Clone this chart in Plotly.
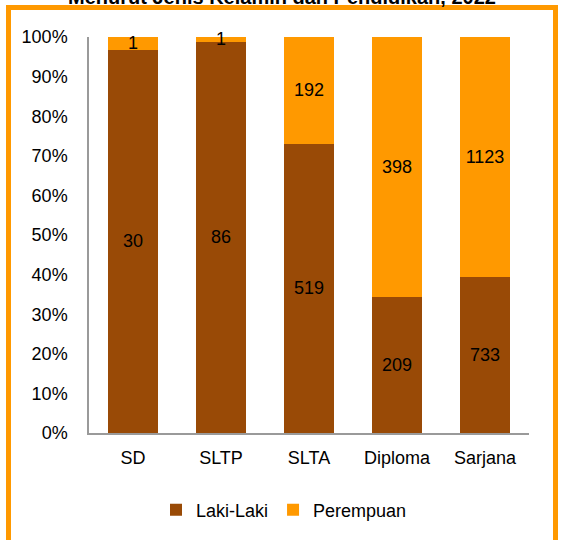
import plotly.graph_objects as go

categories = ["SD", "SLTP", "SLTA", "Diploma", "Sarjana"]
laki = [30, 86, 519, 209, 733]
perempuan = [1, 1, 192, 398, 1123]
series_names = ["Laki-Laki", "Perempuan"]
title_text = "Menurut Jenis Kelamin dan Pendidikan, 2022"

C_LAKI = "#994A06"
C_PEREMPUAN = "#FF9900"
FONT = "Liberation Sans, Arial, sans-serif"
FS = 18

fig = go.Figure()
for name, vals, col in [(series_names[0], laki, C_LAKI), (series_names[1], perempuan, C_PEREMPUAN)]:
    fig.add_trace(go.Bar(
        x=categories, y=vals, name=name, marker_color=col,
        marker_line_width=0,
        text=[str(v) for v in vals], texttemplate="%{text}",
        textposition="inside", insidetextanchor="middle", textangle=0,
        textfont=dict(size=FS, color="black", family=FONT),
        constraintext="none", cliponaxis=False,
    ))

W, H = 561, 540
L, R, T, B = 89, 32, 37, 107
pw, ph = W - L - R, H - T - B

def px_x(x):
    return (x - L) / pw

def px_y(y):
    return (H - B - y) / ph

fig.update_layout(
    width=W, height=H,
    margin=dict(l=L, r=R, t=T, b=B),
    barmode="stack", barnorm="percent", bargap=0.43,
    plot_bgcolor="white", paper_bgcolor="white",
    font=dict(family=FONT, size=FS, color="black"),
    uniformtext=dict(minsize=FS, mode="show"),
    showlegend=True,
    legend=dict(orientation="h", x=px_x(284), xanchor="center", y=px_y(510), yanchor="middle",
                font=dict(size=FS, family=FONT), itemwidth=30, traceorder="normal",
                bgcolor="rgba(0,0,0,0)"),
    xaxis=dict(showline=True, linecolor="#9a9a9a", linewidth=1.5, ticks="", showgrid=False,
               tickfont=dict(size=FS), ticklabelstandoff=8),
    yaxis=dict(range=[0, 100], dtick=10, ticksuffix="%", showline=True, linecolor="#9a9a9a",
               linewidth=1.5, ticks="", showgrid=False, zeroline=False, tickfont=dict(size=FS),
               ticklabelstandoff=16),
    shapes=[dict(type="rect", xref="paper", yref="paper",
                 x0=px_x(8.5), x1=px_x(555.5), y0=px_y(548), y1=px_y(7.5),
                 line=dict(color=C_PEREMPUAN, width=5), fillcolor="rgba(0,0,0,0)", layer="below")],
    annotations=[dict(text="<b>" + title_text + "</b>", xref="paper", yref="paper",
                      x=px_x(282), y=px_y(10), xanchor="center", yanchor="bottom",
                      showarrow=False, font=dict(size=20, family=FONT, color="black"))],
)

fig.write_html("out.html")
